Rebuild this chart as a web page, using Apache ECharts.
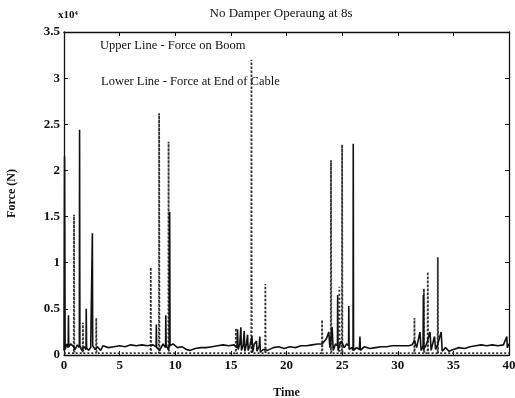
<!DOCTYPE html>
<html><head><meta charset="utf-8">
<script src="https://cdn.jsdelivr.net/npm/echarts@6/dist/echarts.min.js"></script>
<style>html,body{margin:0;padding:0;background:#fff}#c{width:515px;height:398px}</style>
</head><body><div id="c"></div>
<script>
// Force on Boom (solid line), units x10^4 N
const boomTime = [0,0.05,0.1,0.25,0.38,0.4,0.43,0.6,0.8,1.0,1.2,1.38,1.4,1.43,1.6,1.8,1.98,2.0,2.03,2.2,2.4,2.53,2.55,2.58,2.8,3.0,3.3,3.5,4.0,4.5,5.0,5.5,6.0,6.5,7.0,7.5,8.0,8.28,8.3,8.33,8.6,8.9,9.13,9.15,9.18,9.4,9.48,9.5,9.53,9.8,10.2,10.6,11.0,11.3,11.8,12.3,12.8,13.3,13.8,14.3,14.8,15.3,15.55,15.6,15.65,15.8,15.9,15.95,16.1,16.2,16.25,16.4,16.5,16.55,16.7,16.9,16.95,17.1,17.3,17.35,17.55,17.6,17.65,17.9,18.3,18.8,19.3,19.8,20.3,20.8,21.3,21.8,22.3,22.8,23.2,23.6,23.8,23.9,24.1,24.2,24.4,24.58,24.6,24.63,24.9,25.2,25.4,25.58,25.6,25.63,25.85,25.98,26.0,26.03,26.3,26.55,26.6,26.65,27.0,27.5,28.0,28.5,29.0,29.5,30.0,30.5,31.0,31.3,31.5,31.7,32.0,32.1,32.28,32.3,32.33,32.6,32.9,33.0,33.3,33.4,33.6,33.9,34.0,34.3,34.6,35.0,35.5,36.0,36.5,37.0,37.5,38.0,38.5,39.0,39.5,39.8,39.85,40];
const boomForce = [0.05,2.15,0.06,0.12,0.08,0.43,0.09,0.12,0.1,0.06,0.11,0.08,2.44,0.1,0.05,0.09,0.06,0.5,0.08,0.05,0.08,0.06,1.32,0.1,0.06,0.09,0.05,0.1,0.08,0.09,0.1,0.09,0.11,0.1,0.11,0.1,0.11,0.09,0.33,0.08,0.05,0.12,0.08,0.43,0.1,0.06,0.12,1.55,0.1,0.12,0.08,0.09,0.06,0.05,0.07,0.08,0.08,0.09,0.1,0.11,0.1,0.11,0.08,0.28,0.06,0.12,0.3,0.05,0.1,0.26,0.04,0.12,0.22,0.05,0.1,0.2,0.03,0.12,0.15,0.04,0.1,0.2,0.03,0.06,0.05,0.08,0.09,0.07,0.09,0.08,0.1,0.1,0.11,0.12,0.12,0.18,0.25,0.08,0.3,0.05,0.12,0.1,0.65,0.05,0.15,0.08,0.12,0.1,0.53,0.06,0.08,0.05,2.29,0.05,0.08,0.06,0.2,0.05,0.09,0.07,0.08,0.09,0.09,0.1,0.1,0.1,0.1,0.11,0.16,0.08,0.25,0.05,0.1,0.65,0.06,0.12,0.25,0.05,0.2,0.06,0.12,0.25,0.04,0.08,0.04,0.06,0.08,0.07,0.09,0.1,0.11,0.1,0.11,0.1,0.11,0.2,0.08,0.12];
// Force at End of Cable (dotted line)
const cableTime = [0,0.88,0.9,0.93,1.68,1.7,1.73,2.88,2.9,2.93,7.78,7.8,7.83,8.53,8.55,8.58,9.38,9.4,9.43,15.43,15.45,15.48,16.83,16.85,16.88,18.08,18.1,18.13,23.18,23.2,23.23,23.98,24.0,24.03,24.73,24.75,24.78,24.98,25.0,25.03,31.48,31.5,31.53,32.33,32.35,32.38,32.68,32.7,32.73,33.58,33.6,33.63,40];
const cableForce = [0.02,0.02,1.52,0.02,0.02,0.35,0.02,0.02,0.4,0.02,0.02,0.95,0.02,0.02,2.62,0.02,0.02,2.31,0.02,0.02,0.29,0.02,0.02,3.2,0.02,0.02,0.77,0.02,0.02,0.38,0.02,0.02,2.11,0.02,0.02,0.74,0.02,0.02,2.28,0.02,0.02,0.4,0.02,0.02,0.72,0.02,0.02,0.9,0.02,0.02,1.06,0.02,0.02];
const xTicks = {min:0, max:40, interval:5};
const yTicks = {min:0, max:3.5, interval:0.5};

const F = '"Liberation Serif", "DejaVu Serif", serif';
const chart = echarts.init(document.getElementById('c'));
const zip = (a,b)=>a.map((t,i)=>[t,b[i]]);
const axisBase = {
  axisLine:{show:true,onZero:false,lineStyle:{color:'#111',width:1.3}},
  axisTick:{show:true,inside:true,length:4,lineStyle:{color:'#111'}},
  splitLine:{show:false}
};
chart.setOption({
  animation:false,
  backgroundColor:'#fff',
  title:{text:'No Damper Operaung at 8s',left:276,top:2,textAlign:'center',
    textStyle:{fontFamily:F,fontSize:13,fontWeight:'normal',color:'#111'}},
  grid:{left:64,right:6,top:32,bottom:43,containLabel:false,outerBoundsMode:'none'},
  xAxis:[
    Object.assign({type:'value',position:'bottom',min:xTicks.min,max:xTicks.max,interval:xTicks.interval,
      name:'Time',nameLocation:'middle',nameGap:32,
      nameTextStyle:{fontFamily:F,fontSize:12,color:'#111',fontWeight:'bold'},
      axisLabel:{fontFamily:F,fontSize:13,color:'#111',fontWeight:'bold',margin:4}},axisBase),
    Object.assign({type:'value',position:'top',min:xTicks.min,max:xTicks.max,interval:xTicks.interval,
      axisLabel:{show:false}},axisBase)
  ],
  yAxis:[
    Object.assign({type:'value',position:'left',min:yTicks.min,max:yTicks.max,interval:yTicks.interval,
      name:'Force (N)',nameLocation:'middle',nameGap:46,nameRotate:90,
      nameTextStyle:{fontFamily:F,fontSize:12,color:'#111',fontWeight:'bold'},
      axisLabel:{fontFamily:F,fontSize:13,color:'#111',fontWeight:'bold',margin:4}},axisBase),
    Object.assign({type:'value',position:'right',min:yTicks.min,max:yTicks.max,interval:yTicks.interval,
      axisLabel:{show:false}},axisBase)
  ],
  graphic:[
    {type:'text',left:58,top:10,style:{text:'x10\u2074',font:'bold 11px '+F,fill:'#111'}},
    {type:'text',left:100,top:39,style:{text:'Upper Line - Force on Boom',font:'12.5px '+F,fill:'#111'}},
    {type:'text',left:101,top:75,style:{text:'Lower Line - Force at End of Cable',font:'12.5px '+F,fill:'#111'}}
  ],
  series:[
    {type:'line',name:'Force at End of Cable',data:zip(cableTime,cableForce),showSymbol:false,
      lineStyle:{color:'#333',width:1.8,type:[2,2]}},
    {type:'line',name:'Force on Boom',data:zip(boomTime,boomForce),showSymbol:false,
      lineStyle:{color:'#111',width:1.6}}
  ]
});
</script></body></html>
